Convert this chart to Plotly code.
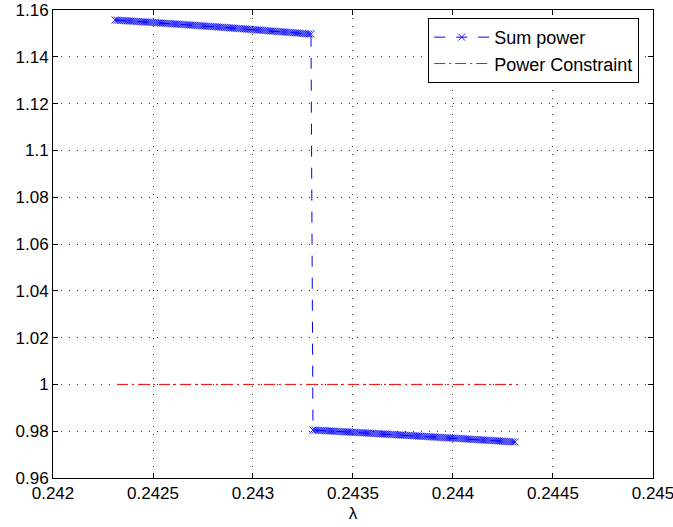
import numpy as np
import plotly.graph_objects as go

# Sweep of the multiplier lambda (uniform grid) and the resulting sum power
lam_step = 0.00001
lam_upper_start = 0.24231
lam_lower_start = 0.24330

power_upper = [
    1.15570, 1.15565, 1.15559, 1.15554, 1.15548, 1.15543, 1.15538, 1.15532, 1.15527, 1.15521, 1.15516,
    1.15510, 1.15505, 1.15499, 1.15494, 1.15488, 1.15483, 1.15477, 1.15472, 1.15466, 1.15461,
    1.15455, 1.15449, 1.15444, 1.15438, 1.15432, 1.15426, 1.15420, 1.15415, 1.15409, 1.15403,
    1.15397, 1.15391, 1.15385, 1.15379, 1.15373, 1.15367, 1.15362, 1.15356, 1.15350, 1.15344,
    1.15338, 1.15332, 1.15325, 1.15319, 1.15313, 1.15307, 1.15301, 1.15295, 1.15289, 1.15283,
    1.15277, 1.15270, 1.15264, 1.15258, 1.15252, 1.15246, 1.15239, 1.15233, 1.15227, 1.15221,
    1.15215, 1.15208, 1.15202, 1.15195, 1.15189, 1.15183, 1.15176, 1.15170, 1.15163, 1.15157,
    1.15150, 1.15144, 1.15137, 1.15131, 1.15124, 1.15117, 1.15111, 1.15104, 1.15097, 1.15091,
    1.15084, 1.15077, 1.15070, 1.15064, 1.15057, 1.15050, 1.15043, 1.15036, 1.15030, 1.15023,
    1.15016, 1.15009, 1.15002, 1.14995, 1.14988, 1.14981, 1.14974, 1.14967,
]

power_lower = [
    0.98050,
    0.98045, 0.98041, 0.98036, 0.98031, 0.98027, 0.98022, 0.98017, 0.98012, 0.98008, 0.98003,
    0.97998, 0.97993, 0.97989, 0.97984, 0.97979, 0.97974, 0.97969, 0.97965, 0.97960, 0.97955,
    0.97950, 0.97945, 0.97940, 0.97935, 0.97930, 0.97926, 0.97921, 0.97916, 0.97911, 0.97906,
    0.97901, 0.97896, 0.97891, 0.97886, 0.97881, 0.97876, 0.97871, 0.97866, 0.97861, 0.97856,
    0.97851, 0.97846, 0.97841, 0.97836, 0.97831, 0.97826, 0.97821, 0.97816, 0.97811, 0.97806,
    0.97801, 0.97796, 0.97791, 0.97786, 0.97780, 0.97775, 0.97770, 0.97765, 0.97760, 0.97755,
    0.97750, 0.97744, 0.97739, 0.97734, 0.97729, 0.97724, 0.97718, 0.97713, 0.97708, 0.97703,
    0.97698, 0.97692, 0.97687, 0.97682, 0.97677, 0.97672, 0.97666, 0.97661, 0.97656, 0.97651,
    0.97646, 0.97640, 0.97635, 0.97630, 0.97624, 0.97619, 0.97614, 0.97608, 0.97603, 0.97598,
    0.97593, 0.97587, 0.97582, 0.97576, 0.97571, 0.97566, 0.97560, 0.97555, 0.97549, 0.97544, 0.97539,
]

constraint_level = 1.0
constraint_lam = [0.24232, 0.24432]

x_ticks = [0.242, 0.2425, 0.243, 0.2435, 0.244, 0.2445, 0.245]
x_ticktext = ["0.242", "0.2425", "0.243", "0.2435", "0.244", "0.2445", "0.245"]
y_ticks = [0.96, 0.98, 1.0, 1.02, 1.04, 1.06, 1.08, 1.1, 1.12, 1.14, 1.16]
y_ticktext = ["0.96", "0.98", "1", "1.02", "1.04", "1.06", "1.08", "1.1", "1.12", "1.14", "1.16"]

lam_upper = np.round(lam_upper_start + lam_step * np.arange(len(power_upper)), 6)
lam_lower = np.round(lam_lower_start + lam_step * np.arange(len(power_lower)), 6)
lam_all = np.concatenate([lam_upper, lam_lower])
power_all = np.array(power_upper + power_lower)

FONT = "Liberation Sans, Arial, Helvetica, sans-serif"

fig = go.Figure()
fig.add_trace(go.Scatter(
    x=lam_all, y=power_all, mode="lines+markers", name="Sum power",
    line=dict(color="rgb(0,0,255)", width=1, dash="11px,11px"),
    marker=dict(symbol="x-thin", size=7, color="rgb(0,0,255)",
                line=dict(color="rgb(0,0,255)", width=0.85)),
))
fig.add_trace(go.Scatter(
    x=constraint_lam, y=[constraint_level] * len(constraint_lam), mode="lines",
    name="Power Constraint",
    line=dict(color="rgb(255,0,0)", width=1, dash="11px,4px,2px,4px"),
))

axis_common = dict(
    showline=True, linecolor="black", linewidth=1, mirror="ticks",
    ticks="inside", ticklen=5, tickcolor="black", tickwidth=1,
    showgrid=True, gridcolor="#333333", gridwidth=1, griddash="1px,7px",
    zeroline=False, ticklabeloverflow="allow",
    tickfont=dict(family=FONT, size=17, color="black"),
)

fig.update_xaxes(range=[0.242, 0.2450001], tickmode="array", tickvals=x_ticks,
                 ticktext=x_ticktext,
                 title=dict(text="λ", font=dict(family=FONT, size=17, color="black"),
                            standoff=4),
                 **axis_common)
fig.update_yaxes(range=[0.96, 1.1600001], tickmode="array", tickvals=y_ticks,
                 ticktext=y_ticktext, **axis_common)

fig.update_layout(
    width=673, height=527,
    margin=dict(l=53, r=20, t=10, b=49, autoexpand=False),
    paper_bgcolor="white", plot_bgcolor="white",
    font=dict(family=FONT, size=17, color="black"),
    legend=dict(
        x=0.977, y=0.983, xanchor="right", yanchor="top",
        bgcolor="white", bordercolor="black", borderwidth=1,
        font=dict(family=FONT, size=18, color="black"),
        itemwidth=55, tracegroupgap=0,
    ),
    showlegend=True,
)

fig.write_html("out.html")
